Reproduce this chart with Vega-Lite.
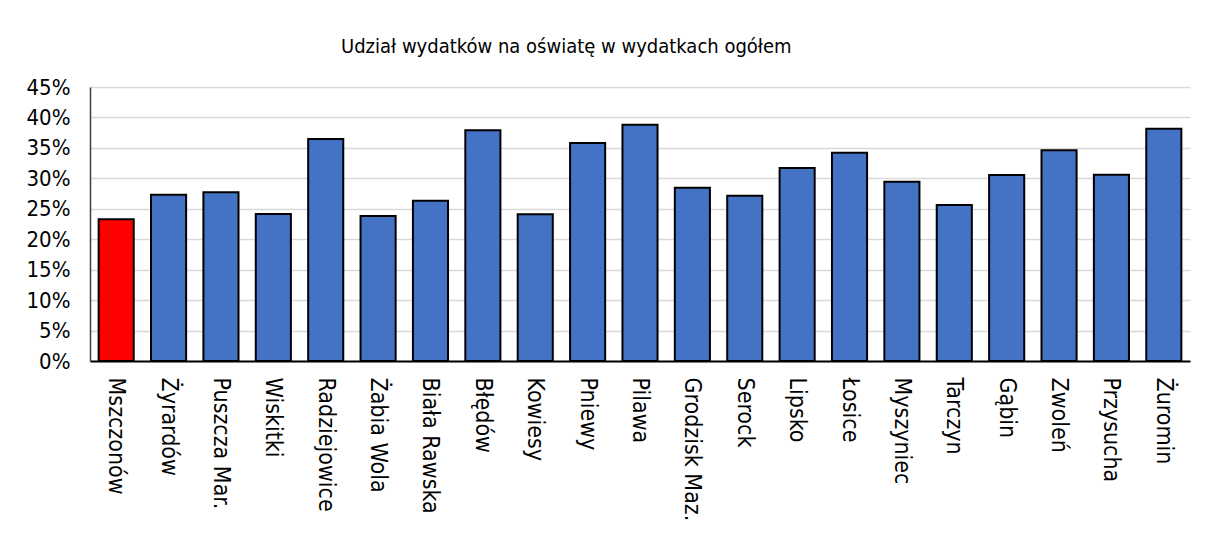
{
  "$schema": "https://vega.github.io/schema/vega-lite/v6.json",
  "width": 1100,
  "height": 274,
  "autosize": {"type": "none"},
  "padding": {"left": 90, "top": 87, "right": 25, "bottom": 174},
  "background": "white",
  "title": {
    "text": "Udział wydatków na oświatę w wydatkach ogółem",
    "anchor": "start",
    "frame": "group",
    "dx": 251,
    "offset": 19,
    "font": "DejaVu Sans Condensed",
    "fontSize": 20,
    "fontWeight": "normal",
    "color": "black"
  },
  "config": {
    "view": {"stroke": null},
    "font": "DejaVu Sans Condensed"
  },
  "data": {
    "values": [
      {"gmina": "Mszczonów", "udzial": 0.2327, "grupa": "Mszczonów"},
      {"gmina": "Żyrardów", "udzial": 0.273, "grupa": "inne"},
      {"gmina": "Puszcza Mar.", "udzial": 0.277, "grupa": "inne"},
      {"gmina": "Wiskitki", "udzial": 0.2414, "grupa": "inne"},
      {"gmina": "Radziejowice", "udzial": 0.3646, "grupa": "inne"},
      {"gmina": "Żabia Wola", "udzial": 0.238, "grupa": "inne"},
      {"gmina": "Biała Rawska", "udzial": 0.263, "grupa": "inne"},
      {"gmina": "Błędów", "udzial": 0.379, "grupa": "inne"},
      {"gmina": "Kowiesy", "udzial": 0.241, "grupa": "inne"},
      {"gmina": "Pniewy", "udzial": 0.358, "grupa": "inne"},
      {"gmina": "Pilawa", "udzial": 0.388, "grupa": "inne"},
      {"gmina": "Grodzisk Maz.", "udzial": 0.2846, "grupa": "inne"},
      {"gmina": "Serock", "udzial": 0.2715, "grupa": "inne"},
      {"gmina": "Lipsko", "udzial": 0.317, "grupa": "inne"},
      {"gmina": "Łosice", "udzial": 0.342, "grupa": "inne"},
      {"gmina": "Myszyniec", "udzial": 0.2945, "grupa": "inne"},
      {"gmina": "Tarczyn", "udzial": 0.256, "grupa": "inne"},
      {"gmina": "Gąbin", "udzial": 0.3055, "grupa": "inne"},
      {"gmina": "Zwoleń", "udzial": 0.346, "grupa": "inne"},
      {"gmina": "Przysucha", "udzial": 0.306, "grupa": "inne"},
      {"gmina": "Żuromin", "udzial": 0.3815, "grupa": "inne"}
    ]
  },
  "mark": {"type": "bar", "stroke": "black", "strokeWidth": 2},
  "encoding": {
    "x": {
      "field": "gmina",
      "type": "nominal",
      "sort": null,
      "scale": {"paddingInner": 0.33, "paddingOuter": 0.165},
      "axis": {
        "title": null,
        "labelAngle": 90,
        "labelAlign": "left",
        "labelBaseline": "middle",
        "labelPadding": 16,
        "ticks": false,
        "domainColor": "black",
        "domainWidth": 2,
        "labelFont": "DejaVu Sans Condensed",
        "labelFontSize": 23,
        "labelColor": "black",
        "labelOverlap": false,
        "labelLimit": 0
      }
    },
    "y": {
      "field": "udzial",
      "type": "quantitative",
      "scale": {"domain": [0, 0.45], "nice": false},
      "axis": {
        "title": null,
        "format": ".0%",
        "values": [0, 0.05, 0.1, 0.15, 0.2, 0.25, 0.3, 0.35, 0.4, 0.45],
        "ticks": false,
        "labelPadding": 20,
        "domainColor": "#404040",
        "domainWidth": 1.5,
        "gridColor": "#d9d9d9",
        "gridWidth": 1.5,
        "labelFont": "DejaVu Sans Condensed",
        "labelFontSize": 22,
        "labelColor": "black"
      }
    },
    "color": {
      "field": "grupa",
      "type": "nominal",
      "scale": {"domain": ["Mszczonów", "inne"], "range": ["#FF0000", "#4472C4"]},
      "legend": null
    }
  }
}
